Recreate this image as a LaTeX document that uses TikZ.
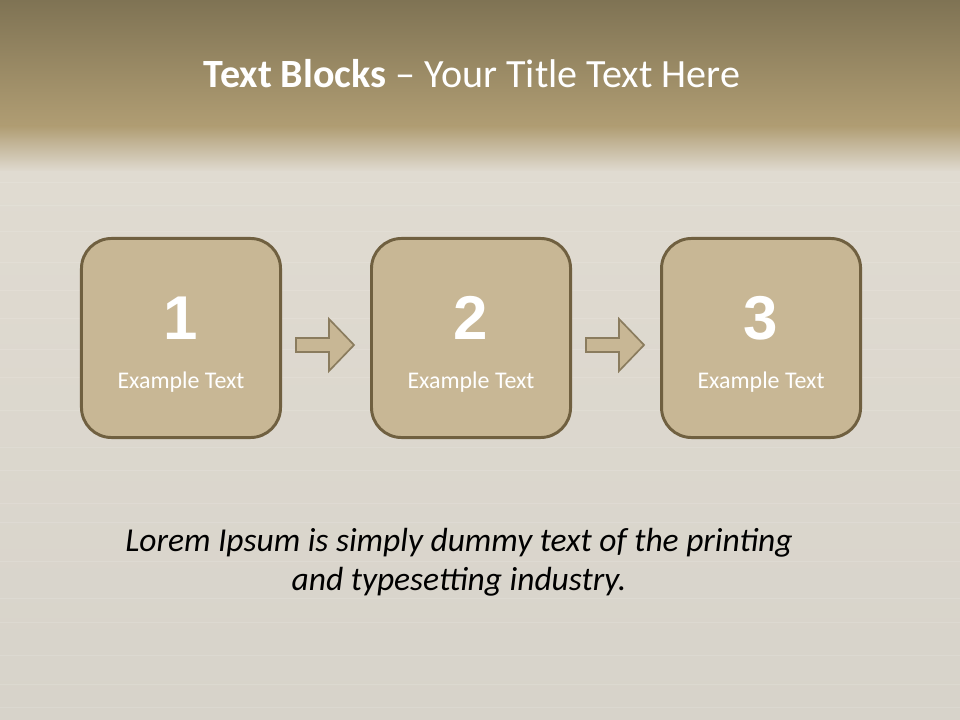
\documentclass[tikz,border=0pt]{standalone}
\usepackage{fontspec}
\setmainfont{Carlito}
\newfontfamily\digitfont{Liberation Sans}
\usetikzlibrary{positioning,calc}
\definecolor{bandtop}{RGB}{127,115,84}
\definecolor{bandlow}{RGB}{176,157,115}
\definecolor{woodlight}{RGB}{224,219,209}
\definecolor{woodlow}{RGB}{215,211,202}
\definecolor{tan}{RGB}{200,183,149}
\definecolor{umber}{RGB}{112,96,64}
\definecolor{arrowline}{RGB}{138,124,94}
\tikzset{
  block/.style={draw=umber,line width=2.1pt,fill=tan,rounded corners=0.75cm,minimum width=4.975cm,minimum height=4.975cm,inner sep=0pt},
  numtext/.style={anchor=base,inner sep=0pt,text=white,font=\digitfont\bfseries\fontsize{44}{44}\selectfont},
  captext/.style={anchor=base,inner sep=0pt,text=white,font=\fontsize{17}{20}\selectfont},
  blockarrow/.style={draw=arrowline,line width=1.2pt,fill=tan,line join=miter},
  streak/.style={white,line width=0.6pt,opacity=0.12},
}
\begin{document}
\begin{tikzpicture}[x=0.025cm,y=-0.025cm,node distance=2.2cm]
% background: banner and wood
\useasboundingbox (0,0) rectangle (960,720);
\shade[top color=bandtop,bottom color=bandlow] (0,0) rectangle (960,126);
\shade[top color=bandlow,bottom color=woodlight] (0,126) rectangle (960,172);
\shade[top color=woodlight,bottom color=woodlow] (0,172) rectangle (960,720);
\foreach \y in {182,205,231,262,290,318,349,377,410,447,470,503,522,561,598,622,655,684,707}
  \draw[streak] (0,\y) -- (960,\y);
% title
\node[anchor=base,text=white,font=\fontsize{28.5}{34}\selectfont] (title) at (472,88)
  {\textbf{Text Blocks} -- Your Title Text Here};
% blocks
\node[block] (b1) at (181,338) {};
\node[block,right=of b1] (b2) {};
\node[block,right=of b2] (b3) {};
\node[numtext] (n1) at ([yshift=-0.05cm]b1.center) {1};
\node[numtext] (n2) at ([yshift=-0.05cm]b2.center) {2};
\node[numtext] (n3) at ([yshift=-0.05cm]b3.center) {3};
\node[captext] (c1) at ([yshift=-1.25cm]b1.center) {Example Text};
\node[captext] (c2) at ([yshift=-1.25cm]b2.center) {Example Text};
\node[captext] (c3) at ([yshift=-1.25cm]b3.center) {Example Text};
% arrows between blocks
\coordinate (m1) at ($(b1.east)!0.5!(b2.west)+(-1,7)$);
\coordinate (m2) at ($(b2.east)!0.5!(b3.west)+(-1,7)$);
\draw[blockarrow,shift={(m1)}] (-29,-7) -- (4,-7) -- (4,-26) -- (29,0) -- (4,26) -- (4,7) -- (-29,7) -- cycle;
\draw[blockarrow,shift={(m2)}] (-29,-7) -- (4,-7) -- (4,-26) -- (29,0) -- (4,26) -- (4,7) -- (-29,7) -- cycle;
% caption text
\node[align=center,font=\itshape\fontsize{23.8}{27.6}\selectfont,text=black] (lorem) at (459,562)
  {Lorem Ipsum is simply dummy text of the printing\\and typesetting industry.};
\end{tikzpicture}
\end{document}
